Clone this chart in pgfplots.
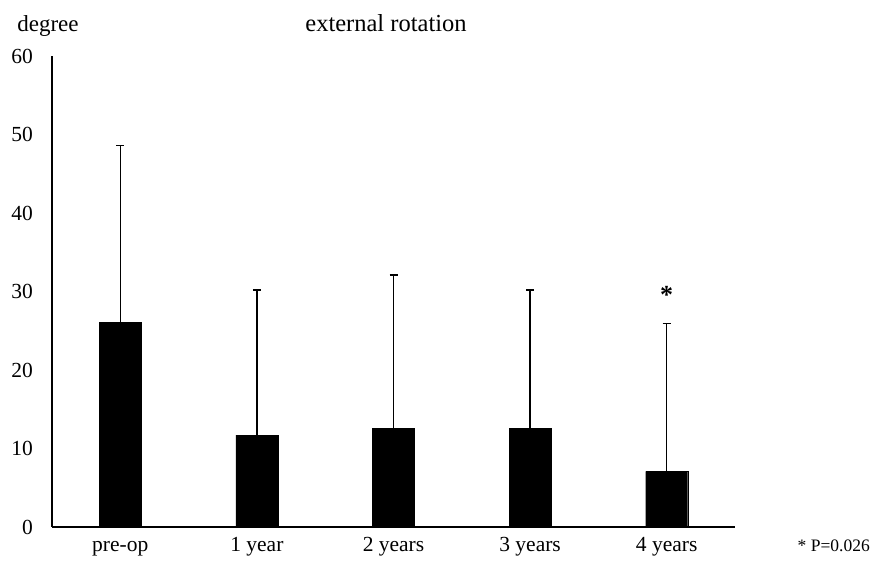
\documentclass[border=0pt]{standalone}
\usepackage{fontspec}
\setmainfont{Liberation Serif}
\usepackage{pgfplots}
\pgfplotsset{compat=1.18}
\begin{document}
\begin{tikzpicture}
\path[use as bounding box] (-52pt,-37pt) rectangle (823pt,527pt);
\begin{axis}[
  at={(0pt,0pt)}, anchor=south west,
  scale only axis, width=683pt, height=471pt,
  xmin=-0.5, xmax=4.5, ymin=0, ymax=60,
  axis x line*=bottom, axis y line*=left,
  axis line style={line width=1.1pt, black},
  ytick={0,10,...,60},
  xtick={0,1,2,3,4},
  xticklabels={pre-op,1 year,2 years,3 years,4 years},
  major tick length=0pt,
  tick label style={font=\fontsize{21.5}{25}\selectfont},
  xticklabel style={anchor=base, yshift=-25pt},
  yticklabel style={anchor=east, inner sep=0pt, xshift=-19pt},
  /pgf/number format/assume math mode=true,
  ybar, bar width=42pt,
  clip=false,
]
\addplot[fill=black, draw=black,
  error bars/.cd, y dir=plus, y explicit,
  error bar style={line width=1.4pt, black},
  error mark options={rotate=90, mark size=4pt, line width=1.4pt, black}]
coordinates {
  (0,26.1) +- (0,22.5)
  (1,11.7) +- (0,18.5)
  (2,12.6) +- (0,19.5)
  (3,12.6) +- (0,17.6)
  (4,7.1)  +- (0,18.8)
};
\node[font=\fontsize{26}{30}\selectfont\bfseries, yshift=-4pt] at (axis cs:4,30.1) {*};
\end{axis}
\node[anchor=base, font=\fontsize{23}{27}\selectfont] at (-4pt,495pt) {degree};
\node[anchor=base, font=\fontsize{24.5}{29}\selectfont] at (334pt,495pt) {external rotation};
\node[anchor=base east, font=\fontsize{17.5}{21}\selectfont, inner sep=0pt] at (818pt,-25pt) {* P=0.026};
\end{tikzpicture}
\end{document}
